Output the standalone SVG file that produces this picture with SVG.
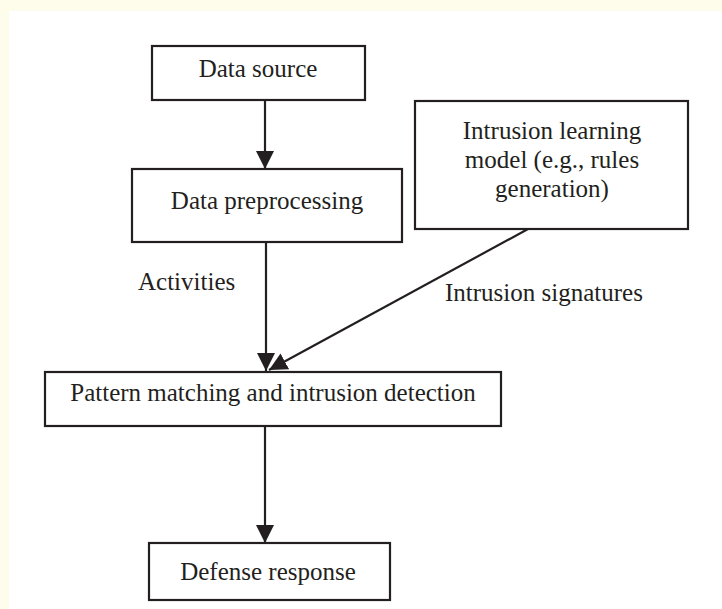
<svg xmlns="http://www.w3.org/2000/svg" width="722" height="609" viewBox="0 0 722 609">
<defs>
<style>
.box{fill:#fff;stroke:#231f20;stroke-width:2.2}
.t{font-family:"Liberation Serif",serif;font-size:25px;fill:#231f20;text-anchor:middle}
.l{font-family:"Liberation Serif",serif;font-size:25px;fill:#231f20}
.c{stroke:#231f20;stroke-width:2.2;fill:none}
</style>
<marker id="ah" markerWidth="20" markerHeight="18" refX="18" refY="9" orient="auto" markerUnits="userSpaceOnUse">
<path d="M0,0 L18,9 L0,18 Z" fill="#231f20"/>
</marker>
</defs>
<rect x="0" y="0" width="722" height="609" fill="#fefcea"/>
<rect x="9" y="11" width="713" height="598" fill="#fff"/>
<g id="connectors">
<line class="c" x1="265" y1="100" x2="265" y2="169" marker-end="url(#ah)"/>
<line class="c" x1="266" y1="242" x2="266" y2="371" marker-end="url(#ah)"/>
<line class="c" x1="528" y1="229" x2="269" y2="370" marker-end="url(#ah)"/>
<line class="c" x1="265" y1="426" x2="265" y2="543" marker-end="url(#ah)"/>
</g>
<g id="data-source">
<rect class="box" x="152" y="46" width="213" height="54"/>
<text class="t" x="258" y="77">Data source</text>
</g>
<g id="data-preprocessing">
<rect class="box" x="132" y="169" width="270" height="73"/>
<text class="t" x="267" y="209">Data preprocessing</text>
</g>
<g id="intrusion-learning">
<rect class="box" x="415" y="101" width="273" height="128"/>
<text class="t" x="552" y="139">Intrusion learning</text>
<text class="t" x="552" y="168">model (e.g., rules</text>
<text class="t" x="552" y="197">generation)</text>
</g>
<g id="pattern-matching">
<rect class="box" x="45" y="372" width="456" height="54"/>
<text class="t" x="273" y="401">Pattern matching and intrusion detection</text>
</g>
<g id="defense-response">
<rect class="box" x="149" y="543" width="241" height="57"/>
<text class="t" x="268" y="580">Defense response</text>
</g>
<g id="labels">
<text class="l" x="138" y="290">Activities</text>
<text class="l" x="445" y="301">Intrusion signatures</text>
</g>
</svg>
